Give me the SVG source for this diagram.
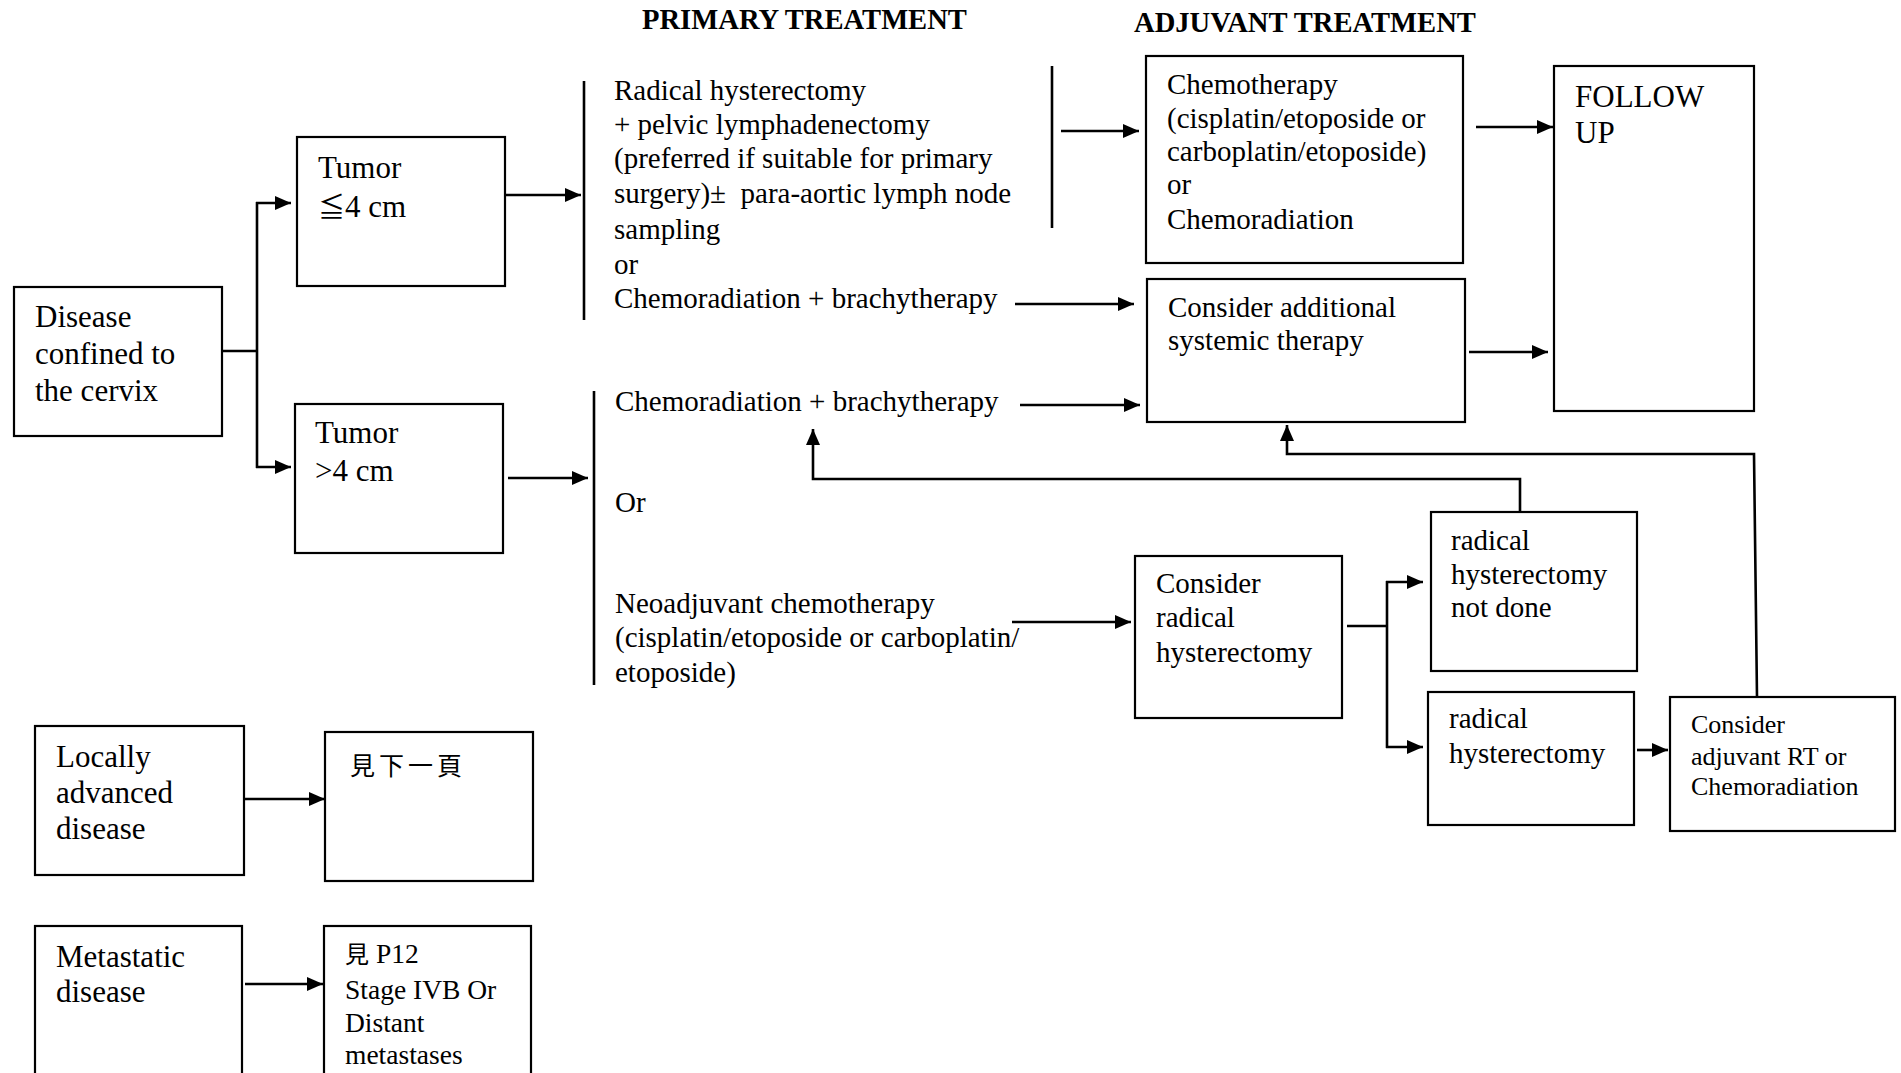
<svg xmlns="http://www.w3.org/2000/svg" width="1901" height="1073" viewBox="0 0 1901 1073">
<style>
  text { font-family: "Liberation Serif", "Noto Sans CJK TC", serif; fill: #000; white-space: pre; }
  .t31 { font-size: 31px; }
  .t29 { font-size: 29px; }
  .t27 { font-size: 27.5px; }
  .t26 { font-size: 26px; }
  .hd { font-size: 28.6px; font-weight: bold; }
  .cjk { font-family: "Noto Sans CJK TC", "Noto Sans CJK SC", sans-serif; font-size: 25px; letter-spacing: 4px; }
  .box { fill: #fff; stroke: #000; stroke-width: 2.2; }
  .ln { fill: none; stroke: #000; stroke-width: 2.6; }
  .ar { fill: none; stroke: #000; stroke-width: 2.6; marker-end: url(#ah); }
</style>
<defs>
  <marker id="ah" viewBox="0 0 16 14" refX="16" refY="7" markerWidth="16" markerHeight="14" markerUnits="userSpaceOnUse" orient="auto">
    <path d="M0,0 L16,7 L0,14 z" fill="#000"/>
  </marker>
</defs>
<rect width="1901" height="1073" fill="#fff"/>

<g id="headers">
  <text class="hd" x="642" y="29">PRIMARY TREATMENT</text>
  <text class="hd" x="1134" y="32">ADJUVANT TREATMENT</text>
</g>

<g id="connectors">
  <polyline class="ln" points="222,351 258,351"/>
  <line class="ln" x1="257" y1="202" x2="257" y2="468"/>
  <line class="ar" x1="256" y1="203" x2="291" y2="203"/>
  <line class="ar" x1="256" y1="467" x2="291" y2="467"/>
  <line class="ar" x1="503" y1="195" x2="581" y2="195"/>
  <line class="ar" x1="508" y1="478" x2="588" y2="478"/>
  <line class="ln" x1="584" y1="81" x2="584" y2="320"/>
  <line class="ln" x1="594" y1="391" x2="594" y2="685"/>
  <line class="ln" x1="1052" y1="66" x2="1052" y2="228"/>
  <line class="ar" x1="1061" y1="131" x2="1139" y2="131"/>
  <line class="ar" x1="1476" y1="127" x2="1553" y2="127"/>
  <line class="ar" x1="1015" y1="304" x2="1134" y2="304"/>
  <line class="ar" x1="1469" y1="352" x2="1548" y2="352"/>
  <line class="ar" x1="1020" y1="405" x2="1140" y2="405"/>
  <line class="ar" x1="1012" y1="622" x2="1131" y2="622"/>
  <line class="ln" x1="1347" y1="626" x2="1387" y2="626"/>
  <line class="ln" x1="1387" y1="581" x2="1387" y2="748"/>
  <line class="ar" x1="1386" y1="582" x2="1423" y2="582"/>
  <line class="ar" x1="1386" y1="747" x2="1423" y2="747"/>
  <line class="ar" x1="1637" y1="750" x2="1668" y2="750"/>
  <polyline class="ar" points="1520,512 1520,479 813,479 813,429"/>
  <polyline class="ar" points="1757,697 1754,454 1287,454 1287,425"/>
  <line class="ar" x1="245" y1="799" x2="325" y2="799"/>
  <line class="ar" x1="245" y1="984" x2="323" y2="984"/>
</g>

<g id="disease-cervix">
  <rect class="box" x="14" y="287" width="208" height="149"/>
  <text class="t31" x="35" y="327">Disease</text>
  <text class="t31" x="35" y="364">confined to</text>
  <text class="t31" x="35" y="401">the cervix</text>
</g>

<g id="tumor-small">
  <rect class="box" x="297" y="137" width="208" height="149"/>
  <text class="t31" x="318" y="178">Tumor</text>
  <text class="t31" x="318" y="217"><tspan style="font-size: 27px;">≦</tspan>4 cm</text>
</g>

<g id="tumor-large">
  <rect class="box" x="295" y="404" width="208" height="149"/>
  <text class="t31" x="315" y="443">Tumor</text>
  <text class="t31" x="315" y="481">&gt;4 cm</text>
</g>

<g id="primary-small">
  <text class="t29" x="614" y="100">Radical hysterectomy</text>
  <text class="t29" x="614" y="134">+ pelvic lymphadenectomy</text>
  <text class="t29" x="614" y="168">(preferred if suitable for primary</text>
  <text class="t29" x="614" y="203">surgery)±  para-aortic lymph node</text>
  <text class="t29" x="614" y="239">sampling</text>
  <text class="t29" x="614" y="274">or</text>
  <text class="t29" x="614" y="308">Chemoradiation + brachytherapy</text>
</g>

<g id="primary-large">
  <text class="t29" x="615" y="411">Chemoradiation + brachytherapy</text>
  <text class="t29" x="615" y="512">Or</text>
  <text class="t29" x="615" y="613">Neoadjuvant chemotherapy</text>
  <text class="t29" x="615" y="647">(cisplatin/etoposide or carboplatin/</text>
  <text class="t29" x="615" y="682">etoposide)</text>
</g>

<g id="chemotherapy">
  <rect class="box" x="1146" y="56" width="317" height="207"/>
  <text class="t29" x="1167" y="94">Chemotherapy</text>
  <text class="t29" x="1167" y="128">(cisplatin/etoposide or</text>
  <text class="t29" x="1167" y="161">carboplatin/etoposide)</text>
  <text class="t29" x="1167" y="194">or</text>
  <text class="t29" x="1167" y="229">Chemoradiation</text>
</g>

<g id="follow-up">
  <rect class="box" x="1554" y="66" width="200" height="345"/>
  <text class="t31" x="1575" y="107">FOLLOW</text>
  <text class="t31" x="1575" y="143">UP</text>
</g>

<g id="additional-systemic">
  <rect class="box" x="1147" y="279" width="318" height="143"/>
  <text class="t29" x="1168" y="317">Consider additional</text>
  <text class="t29" x="1168" y="350">systemic therapy</text>
</g>

<g id="consider-radical">
  <rect class="box" x="1135" y="556" width="207" height="162"/>
  <text class="t29" x="1156" y="593">Consider</text>
  <text class="t29" x="1156" y="627">radical</text>
  <text class="t29" x="1156" y="662">hysterectomy</text>
</g>

<g id="rh-not-done">
  <rect class="box" x="1431" y="512" width="206" height="159"/>
  <text class="t29" x="1451" y="550">radical</text>
  <text class="t29" x="1451" y="584">hysterectomy</text>
  <text class="t29" x="1451" y="617">not done</text>
</g>

<g id="rh-done">
  <rect class="box" x="1428" y="692" width="206" height="133"/>
  <text class="t29" x="1449" y="728">radical</text>
  <text class="t29" x="1449" y="763">hysterectomy</text>
</g>

<g id="adjuvant-rt">
  <rect class="box" x="1670" y="697" width="225" height="134"/>
  <text class="t26" x="1691" y="733">Consider</text>
  <text class="t26" x="1691" y="765">adjuvant RT or</text>
  <text class="t26" x="1691" y="795">Chemoradiation</text>
</g>

<g id="locally-advanced">
  <rect class="box" x="35" y="726" width="209" height="149"/>
  <text class="t31" x="56" y="767">Locally</text>
  <text class="t31" x="56" y="803">advanced</text>
  <text class="t31" x="56" y="839">disease</text>
</g>

<g id="next-page">
  <rect class="box" x="325" y="732" width="208" height="149"/>
  <text class="cjk" x="350" y="775">見下一頁</text>
</g>

<g id="metastatic">
  <rect class="box" x="35" y="926" width="207" height="160"/>
  <text class="t31" x="56" y="967">Metastatic</text>
  <text class="t31" x="56" y="1002">disease</text>
</g>

<g id="stage-ivb">
  <rect class="box" x="324" y="926" width="207" height="160"/>
  <text class="t27" x="345" y="963"><tspan style="font-family: 'Noto Sans CJK TC', sans-serif; font-size: 24px;">見</tspan> P12</text>
  <text class="t27" x="345" y="999">Stage IVB Or</text>
  <text class="t27" x="345" y="1032">Distant</text>
  <text class="t27" x="345" y="1064">metastases</text>
</g>
</svg>
